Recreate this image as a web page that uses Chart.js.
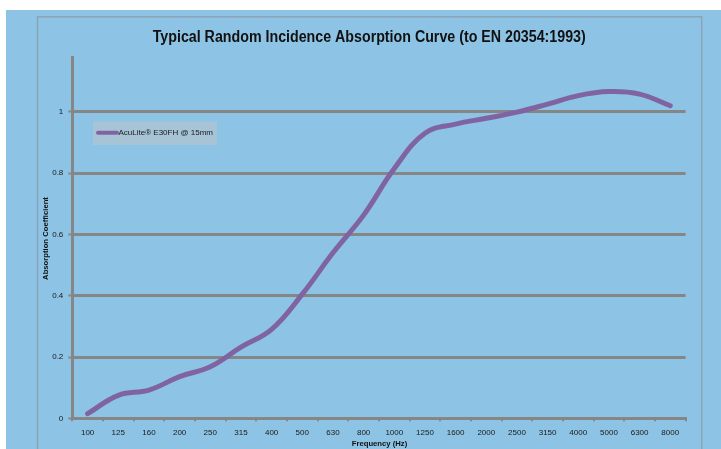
<!DOCTYPE html>
<html><head><meta charset="utf-8">
<script src="https://cdn.jsdelivr.net/npm/chart.js@4.4.1/dist/chart.umd.min.js"></script>
<style>html,body{margin:0;padding:0;background:#fff;overflow:hidden}#wrap{position:absolute;left:0;top:0;width:721px;height:449px}</style>
</head><body><div id="wrap"><canvas id="c" width="721" height="449"></canvas></div>
<script>
const frequencies = ['100','125','160','200','250','315','400','500','630','800','1000','1250','1600','2000','2500','3150','4000','5000','6300','8000'];
const absorption = [0.015,0.075,0.092,0.136,0.168,0.232,0.29,0.405,0.54,0.663,0.815,0.93,0.96,0.979,0.999,1.025,1.053,1.066,1.058,1.02];
const yTicks = [0,0.2,0.4,0.6,0.8,1];
const seriesName = 'AcuLite\u00AE E30FH @ 15mm';
const chartTitle = 'Typical Random Incidence Absorption Curve (to EN 20354:1993)';
const xTitle = 'Frequency (Hz)';
const yTitle = 'Absorption Coefficient';

const GRID = '#868686';
const BLUE = '#8DC3E4';
const PURPLE = '#8064A2';

const decor = {
  id: 'decor',
  beforeDraw(chart) {
    const ctx = chart.ctx;
    ctx.save();
    ctx.fillStyle = '#ffffff';
    ctx.fillRect(0, 0, 721, 449);
    ctx.fillStyle = BLUE;
    ctx.fillRect(6, 10, 715, 439);
    ctx.strokeStyle = '#8DA3B6';
    ctx.lineWidth = 1.5;
    ctx.strokeRect(37.5, 16.8, 664.2, 500);
    ctx.restore();
  },
  afterDraw(chart) {
    const ctx = chart.ctx;
    ctx.save();
    ctx.fillStyle = '#111';
    ctx.textAlign = 'center';
    ctx.textBaseline = 'alphabetic';
    ctx.font = 'bold 16px "Liberation Sans", sans-serif';
    const tw = ctx.measureText(chartTitle).width;
    const sx = 433 / tw;
    ctx.save();
    ctx.translate(369.2, 41.7);
    ctx.scale(sx, 1);
    ctx.fillText(chartTitle, 0, 0);
    ctx.restore();
    ctx.font = 'bold 7.7px "Liberation Sans", sans-serif';
    ctx.textBaseline = 'middle';
    ctx.fillText(xTitle, 379.5, 444.3);
    ctx.save();
    ctx.translate(45.7, 238.5);
    ctx.rotate(-Math.PI / 2);
    ctx.fillText(yTitle, 0, 0);
    ctx.restore();
    // legend
    const ds = chart.data.datasets[0];
    ctx.fillStyle = '#A7C4D7';
    ctx.fillRect(93, 121.5, 124, 23.5);
    ctx.strokeStyle = ds.borderColor;
    ctx.lineWidth = 4;
    ctx.lineCap = 'round';
    ctx.beginPath();
    ctx.moveTo(98, 132.8);
    ctx.lineTo(117, 132.8);
    ctx.stroke();
    ctx.fillStyle = '#1a1a1a';
    ctx.textAlign = 'left';
    ctx.font = '8px "Liberation Sans", sans-serif';
    ctx.fillText(ds.label, 118.5, 133);
    ctx.restore();
  }
};

new Chart(document.getElementById('c'), {
  type: 'line',
  data: {
    labels: frequencies,
    datasets: [{
      label: seriesName,
      data: absorption,
      borderColor: PURPLE,
      borderWidth: 5,
      borderCapStyle: 'round',
      borderJoinStyle: 'round',
      pointRadius: 0,
      pointHoverRadius: 0,
      tension: 0.4,
      fill: false
    }]
  },
  options: {
    responsive: false,
    animation: false,
    devicePixelRatio: 1,
    layout: { padding: { top: 57.3, right: 35.4, left: 0, bottom: 0 } },
    plugins: { legend: { display: false }, title: { display: false }, tooltip: { enabled: false } },
    events: [],
    scales: {
      x: {
        type: 'category',
        offset: true,
        grid: { offset: true, drawOnChartArea: false, drawTicks: true, tickLength: 3, color: GRID, lineWidth: 2 },
        border: { display: true, color: GRID, width: 3 },
        ticks: { font: { family: '"Liberation Sans", sans-serif', size: 8 }, color: '#1a1a1a', padding: 7, maxRotation: 0, autoSkip: false },
        afterFit(s) { s.height = 30.7; }
      },
      y: {
        min: 0,
        max: 1.178,
        ticks: {
          stepSize: 0.2,
          font: { family: '"Liberation Sans", sans-serif', size: 8 },
          color: '#1a1a1a',
          padding: 5,
          callback: v => String(Math.round(v * 100) / 100)
        },
        afterBuildTicks(s) { s.ticks = yTicks.map(v => ({ value: v })); },
        grid: { color: GRID, lineWidth: 3, tickLength: 4, tickWidth: 2, tickColor: GRID },
        border: { display: true, color: GRID, width: 3 },
        afterFit(s) { s.width = 72.3; }
      }
    }
  },
  plugins: [decor]
});
</script>
</body></html>
